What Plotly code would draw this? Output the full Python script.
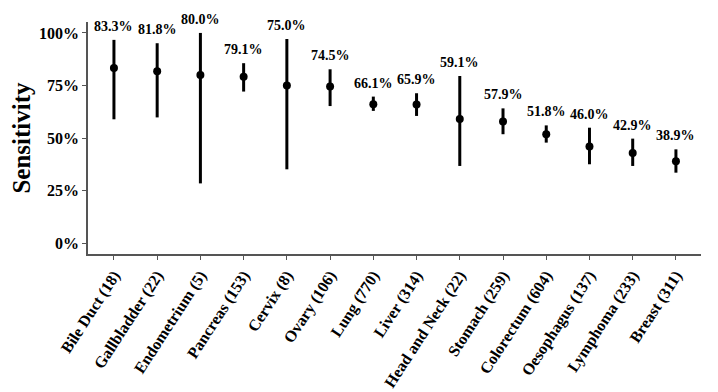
import plotly.graph_objects as go

categories = ["Bile Duct (18)", "Gallbladder (22)", "Endometrium (5)", "Pancreas (153)",
              "Cervix (8)", "Ovary (106)", "Lung (770)", "Liver (314)", "Head and Neck (22)",
              "Stomach (259)", "Colorectum (604)", "Oesophagus (137)", "Lymphoma (233)",
              "Breast (311)"]
sensitivity = [83.3, 81.8, 80.0, 79.1, 75.0, 74.5, 66.1, 65.9, 59.1, 57.9, 51.8, 46.0, 42.9, 38.9]
ci_upper = [96.7, 95.1, 100.0, 85.6, 97.1, 82.7, 69.7, 71.3, 79.5, 64.1, 56.0, 54.9, 49.7, 44.6]
ci_lower = [58.9, 59.8, 28.4, 72.1, 35.1, 65.2, 62.9, 60.5, 36.7, 51.8, 47.8, 37.5, 36.7, 33.5]
y_ticks = [0, 25, 50, 75, 100]
y_tick_labels = ["0%", "25%", "50%", "75%", "100%"]

FONT = "Liberation Serif, Times New Roman, serif"

err_plus = [u - s for u, s in zip(ci_upper, sensitivity)]
err_minus = [s - l for s, l in zip(sensitivity, ci_lower)]

fig = go.Figure()
fig.add_trace(go.Scatter(
    x=categories, y=sensitivity, mode="markers",
    marker=dict(color="black", size=8),
    error_y=dict(type="data", symmetric=False, array=err_plus, arrayminus=err_minus,
                 color="black", thickness=3, width=0),
    showlegend=False, hoverinfo="skip",
))

for c, s, u in zip(categories, sensitivity, ci_upper):
    fig.add_annotation(x=c, y=u, text=f"<b>{s:.1f}%</b>", showarrow=False,
                       yanchor="bottom", yshift=4,
                       font=dict(family=FONT, size=14, color="black"))

# the page body adds an 8px offset, so the figure is 8px smaller and margins compensate
fig.update_layout(
    width=710, height=384,
    margin=dict(l=80, r=17, t=14, b=138),
    plot_bgcolor="white", paper_bgcolor="white",
    font=dict(family=FONT, color="black"),
    xaxis=dict(
        range=[-0.6, 13.58], showline=True, linecolor="#555", linewidth=1.5,
        ticks="outside", ticklen=4, tickcolor="#555", tickwidth=1,
        tickangle=-57, showgrid=False, zeroline=False, automargin=False,
        tickfont=dict(family=FONT, size=16, color="black"),
        tickprefix="<b>", ticksuffix="</b>",
    ),
    yaxis=dict(
        range=[-5.2, 105.2], showline=True, linecolor="#555", linewidth=1.5,
        ticks="outside", ticklen=4, tickcolor="#555", tickwidth=1,
        tickvals=y_ticks, ticktext=[f"<b>{t}</b>" for t in y_tick_labels],
        showgrid=False, zeroline=False, automargin=False,
        tickfont=dict(family=FONT, size=16, color="black"),
        title=dict(text="<b>Sensitivity</b>", font=dict(family=FONT, size=25, color="black"),
                   standoff=16),
    ),
)

fig.write_html("out.html")
